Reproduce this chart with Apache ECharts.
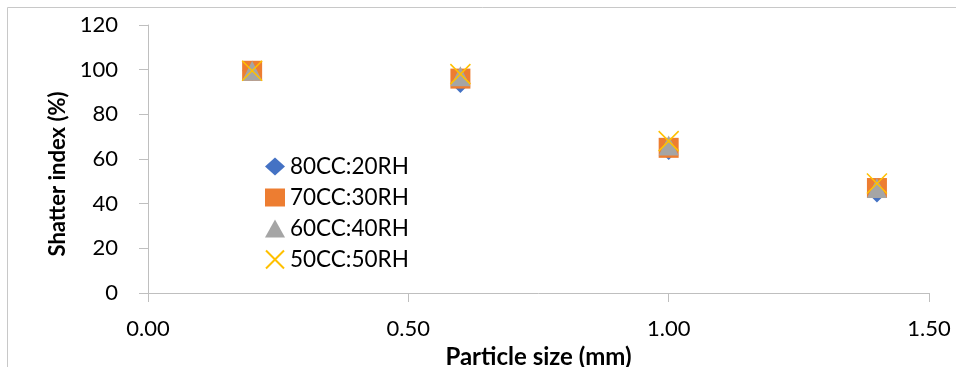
<!DOCTYPE html>
<html>
<head>
<meta charset="utf-8">
<style>
  html, body { margin: 0; padding: 0; background: #fff; }
  #chart { width: 956px; height: 367px; }
</style>
<script src="https://cdn.jsdelivr.net/npm/echarts@6/dist/echarts.min.js"></script>
</head>
<body>
<div id="chart"></div>
<script>
// Particle sizes (mm)
const particleSize = [0.2, 0.6, 1.0, 1.4];

// Shatter index (%) for each blend
const blend80_20 = [99.5, 94, 64, 45];
const blend70_30 = [99.5, 96, 65, 47];
const blend60_40 = [99.5, 97, 66, 47];
const blend50_50 = [99.5, 98, 68, 49];

const seriesNames = ['80CC:20RH', '70CC:30RH', '60CC:40RH', '50CC:50RH'];
const xTicks = [0, 0.5, 1.0, 1.5];

const FONT = 'Lato, "Open Sans", sans-serif';
const AXIS_GRAY = '#BFBFBF';

function pairs(ys) {
  return particleSize.map((x, i) => [x, ys[i]]);
}

const chart = echarts.init(document.getElementById('chart'), null, { renderer: 'canvas' });

chart.setOption({
  animation: false,
  backgroundColor: '#fff',
  textStyle: { fontFamily: FONT },
  graphic: [{
    type: 'rect',
    shape: { x: 7.5, y: 7.5, width: 1200, height: 1200 },
    style: { fill: 'none', stroke: '#C8C8C8', lineWidth: 1 },
    silent: true,
    z: -1
  }],
  grid: { left: 148, right: 27, top: 25, bottom: 74, containLabel: false, outerBoundsMode: 'none' },
  legend: {
    orient: 'vertical',
    left: 260,
    top: 150,
    itemWidth: 20,
    itemHeight: 18,
    itemGap: 8,
    itemTextGap: 5,
    textStyle: { fontFamily: FONT, fontSize: 22.5, color: '#000', lineHeight: 22 },
    data: seriesNames
  },
  xAxis: {
    type: 'value',
    min: 0,
    max: 1.5,
    interval: 0.5,
    name: 'Particle size (mm)',
    nameLocation: 'middle',
    nameGap: 41,
    nameTextStyle: { fontFamily: FONT, fontSize: 24, fontWeight: 'bold', color: '#000' },
    axisLine: { show: true, onZero: false, lineStyle: { color: AXIS_GRAY, width: 1 } },
    axisTick: { show: true, length: 9, inside: false, lineStyle: { color: AXIS_GRAY } },
    splitLine: { show: false },
    axisLabel: {
      margin: 25,
      fontFamily: FONT,
      fontSize: 22,
      color: '#000',
      formatter: v => xTicks.includes(v) ? v.toFixed(2) : ''
    }
  },
  yAxis: {
    type: 'value',
    min: 0,
    max: 120,
    interval: 20,
    name: 'Shatter index (%)',
    nameLocation: 'middle',
    nameGap: 77,
    nameRotate: 90,
    nameTextStyle: {
      fontFamily: FONT, fontSize: 22, fontWeight: 'bold', color: '#000',
      padding: [0, 30, 0, 0]
    },
    axisLine: { show: true, lineStyle: { color: AXIS_GRAY, width: 1 } },
    axisTick: { show: true, length: 9, inside: false, lineStyle: { color: AXIS_GRAY } },
    splitLine: { show: false },
    axisLabel: { margin: 30, fontFamily: FONT, fontSize: 22, color: '#000' }
  },
  series: [
    {
      name: seriesNames[0],
      type: 'scatter',
      symbol: 'diamond',
      symbolSize: 20,
      itemStyle: { color: '#4472C4', opacity: 1 },
      data: pairs(blend80_20)
    },
    {
      name: seriesNames[1],
      type: 'scatter',
      symbol: 'rect',
      symbolSize: 20,
      itemStyle: { color: '#ED7D31', opacity: 1 },
      data: pairs(blend70_30)
    },
    {
      name: seriesNames[2],
      type: 'scatter',
      symbol: 'triangle',
      symbolSize: 20,
      itemStyle: { color: '#A5A5A5', opacity: 1 },
      data: pairs(blend60_40)
    },
    {
      name: seriesNames[3],
      type: 'scatter',
      symbol: 'path://M0,0L10,10M10,0L0,10',
      symbolSize: 20,
      itemStyle: { color: 'rgba(0,0,0,0)', borderColor: '#FFC000', borderWidth: 1.5, opacity: 1 },
      data: pairs(blend50_50)
    }
  ]
});
</script>
</body>
</html>
